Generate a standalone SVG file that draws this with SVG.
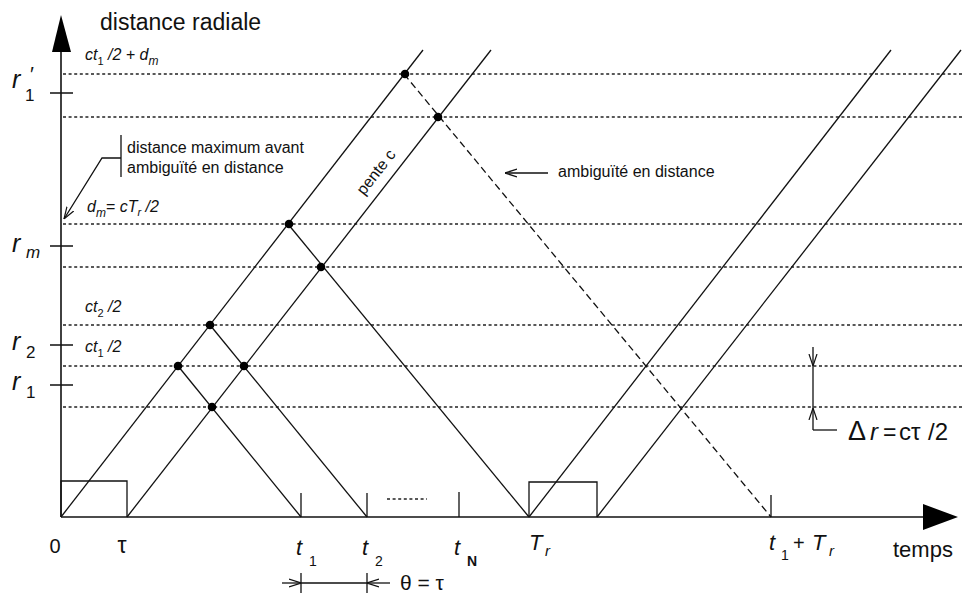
<svg xmlns="http://www.w3.org/2000/svg" width="962" height="596" viewBox="0 0 962 596">
<style>
  .ln{stroke:#111;stroke-width:1.3;fill:none}
  .ax{stroke:#111;stroke-width:1.6;fill:none}
  .dot{stroke:#222;stroke-width:1.4;stroke-dasharray:3 2.6;fill:none}
  .dash{stroke:#111;stroke-width:1.3;stroke-dasharray:7 4;fill:none}
  .pt{fill:#000}
  text{font-family:"Liberation Sans",Arial,sans-serif;fill:#111}
  .it{font-style:italic}
  .sm{font-size:16px}
  .lab{font-size:16px;font-style:italic}
</style>
<defs>
  <marker id="open" viewBox="0 0 12 10" refX="12" refY="5" markerWidth="12" markerHeight="10" markerUnits="userSpaceOnUse" orient="auto">
    <path d="M0,1 L12,5 L0,9" fill="none" stroke="#111" stroke-width="1.2"/>
  </marker>
</defs>
<rect width="962" height="596" fill="#fff"/>

<g id="axes">
  <path class="ax" d="M61,517 V50"/>
  <polygon points="61,15 52,52 71,52" fill="#000"/>
  <path class="ax" d="M61,517 H925"/>
  <polygon points="958,517 923,504 923,530" fill="#000"/>
  <path class="ln" d="M50,93 H73 M50,246 H73 M50,345 H73 M50,385 H73"/>
  <path class="ln" d="M301,493 V517 M367,493 V517 M459,492 V517 M771,495 V517"/>
  <path class="dot" d="M387,499 H427"/>
</g>

<g id="levels">
  <path class="dot" d="M63,74 H962 M63,117 H962 M63,224 H962 M63,267 H962 M63,325 H962 M63,366 H962 M63,407 H962"/>
</g>

<g id="pulses">
  <path class="ln" d="M61,517 V481 H127 V517"/>
  <path class="ln" d="M529,517 V482 H597 V517"/>
</g>

<g id="connectors">
  <path class="ln" d="M61,517 L423,50"/>
  <path class="ln" d="M127,517 L491,50"/>
  <path class="ln" d="M529,517 L891,50"/>
  <path class="ln" d="M597,517 L961,50"/>
  <path class="ln" d="M178,366 L301,517"/>
  <path class="ln" d="M210,325 L367,517"/>
  <path class="ln" d="M288,224 L529,517"/>
  <path class="dash" d="M404,74 L771,517"/>
  <path class="ln" d="M121,135 V177 M121,158 H102 L64,219" marker-end="url(#open)"/>
  <path class="ln" d="M548,173 H505" marker-end="url(#open)"/>
  <path class="ln" d="M813,347 V366" marker-end="url(#open)"/>
  <path class="ln" d="M813,366 V408"/>
  <path class="ln" d="M813,430 V408" marker-end="url(#open)"/>
  <path class="ln" d="M813,430 H837"/>
  <path class="ln" d="M282,583 H301" marker-end="url(#open)"/>
  <path class="ln" d="M390,583 H367" marker-end="url(#open)"/>
  <path class="ln" d="M301,583 H367 M301,573 V593 M367,573 V593"/>
</g>

<g id="echoes">
  <circle class="pt" cx="178" cy="366" r="4.3"/>
  <circle class="pt" cx="210" cy="325" r="4.3"/>
  <circle class="pt" cx="244" cy="366" r="4.3"/>
  <circle class="pt" cx="212" cy="407" r="4.3"/>
  <circle class="pt" cx="289" cy="224" r="4.3"/>
  <circle class="pt" cx="321" cy="267" r="4.3"/>
  <circle class="pt" cx="405" cy="74" r="4.3"/>
  <circle class="pt" cx="438" cy="117" r="4.3"/>
</g>

<g id="y-labels">
  <text x="100" y="30" font-size="23">distance radiale</text>
  <text x="12" y="88" font-size="25" class="it">r</text>
  <text x="25" y="101" font-size="17">1</text>
  <text x="29" y="81" font-size="21" class="it">′</text>
  <text x="12" y="252" font-size="25" class="it">r</text>
  <text x="26" y="258" font-size="17" class="it">m</text>
  <text x="12" y="350" font-size="25" class="it">r</text>
  <text x="26" y="358" font-size="17">2</text>
  <text x="12" y="390" font-size="25" class="it">r</text>
  <text x="26" y="398" font-size="17">1</text>
  <text x="85" y="60" class="lab">ct<tspan dy="5" font-size="11" font-style="normal">1</tspan><tspan dy="-5"> /2 + d</tspan><tspan dy="5" font-size="12">m</tspan></text>
  <text x="87" y="212" class="lab" font-size="17">d<tspan dy="5" font-size="12">m</tspan><tspan dy="-5" font-style="normal">= </tspan> cT<tspan dy="4" font-size="11">r</tspan><tspan dy="-4"> /2</tspan></text>
  <text x="85" y="312" class="lab">ct<tspan dy="5" font-size="11" font-style="normal">2</tspan><tspan dy="-5"> /2</tspan></text>
  <text x="85" y="352" class="lab">ct<tspan dy="5" font-size="11" font-style="normal">1</tspan><tspan dy="-5"> /2</tspan></text>
</g>

<g id="notes">
  <text x="127" y="153" class="sm">distance maximum avant</text>
  <text x="127" y="173" class="sm">ambiguïté en distance</text>
  <text x="558" y="177" class="sm">ambiguïté en distance</text>
  <text transform="translate(364,196) rotate(-52)" font-size="16">pente c</text>
  <text x="848" y="440" font-size="27">Δ</text>
  <text x="870" y="440" font-size="24" class="it">r</text>
  <text x="883" y="440" font-size="23">=</text>
  <text x="899" y="440" font-size="24">cτ</text>
  <text x="928" y="440" font-size="24">/2</text>
</g>

<g id="x-labels">
  <text x="55" y="553" font-size="20" text-anchor="middle">0</text>
  <text x="122" y="553" font-size="23" text-anchor="middle">τ</text>
  <text x="296" y="555" font-size="22" class="it">t</text>
  <text x="309" y="566" font-size="14">1</text>
  <text x="362" y="555" font-size="22" class="it">t</text>
  <text x="375" y="566" font-size="14">2</text>
  <text x="454" y="555" font-size="22" class="it">t</text>
  <text x="467" y="566" font-size="14" font-weight="bold">N</text>
  <text x="529" y="550" font-size="22" class="it">T</text>
  <text x="545" y="556" font-size="15" class="it">r</text>
  <text x="769" y="550" font-size="22" class="it">t</text>
  <text x="781" y="560" font-size="14">1</text>
  <text x="793" y="550" font-size="20">+</text>
  <text x="812" y="550" font-size="22" class="it">T</text>
  <text x="829" y="556" font-size="15" class="it">r</text>
  <text x="893" y="557" font-size="22">temps</text>
  <text x="400" y="590" font-size="21">θ = τ</text>
</g>
</svg>
